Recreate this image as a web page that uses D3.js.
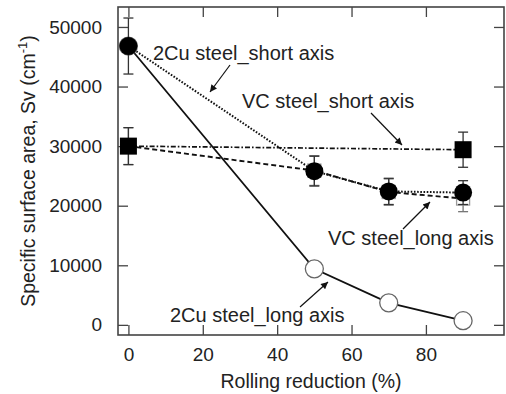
<!DOCTYPE html>
<html><head><meta charset="utf-8">
<script src="https://cdn.jsdelivr.net/npm/d3@7"></script>
<style>body{margin:0;background:#fff}svg{display:block}text{font-family:"Liberation Sans",Arial,sans-serif;fill:#222}</style>
</head><body>
<svg id="c" width="506" height="394"></svg>
<script>
const reduction = [0, 50, 70, 90];
const cuShort = [46800, 25800, 22400, 22200];
const cuShortErr = [4700, 2500, 2200, 2000];
const cuLong = [46800, 9400, 3700, 700];
const vcShortX = [0, 90];
const vcShort = [30000, 29400];
const vcShortErr = [3100, 2950];
const vcLong = [30000, 25900, 22300, 21200];
const vcLongErr = [3100, 2500, 2200, 2200];
const xTicks = [0, 20, 40, 60, 80];
const yTicks = [0, 10000, 20000, 30000, 40000, 50000];

const svg = d3.select("#c");
const L = 118, R = 504, T = 7, B = 335;
const x = d3.scaleLinear().domain([-2.8, 101]).range([L, R]);
const y = d3.scaleLinear().domain([-1700, 53350]).range([B, T]);
const ink = "#444";

// axes (inward ticks on all sides)
const tk = 10;
const ax = (g, a) => g.call(a).call(s => s.select(".domain").remove()).call(s => s.selectAll("line").attr("stroke", ink).attr("stroke-width", 1.3));
svg.append("g").attr("transform", `translate(0,${B})`).call(g => ax(g, d3.axisBottom(x).tickValues(xTicks).tickSizeInner(-tk).tickSizeOuter(0).tickPadding(22)))
  .selectAll("text").attr("font-size", 19).attr("dy", "0.2em").attr("fill", "#222");
svg.append("g").attr("transform", `translate(0,${T})`).call(g => ax(g, d3.axisTop(x).tickValues(xTicks).tickSizeInner(-tk).tickSizeOuter(0).tickFormat("")));
svg.append("g").attr("transform", `translate(${L},0)`).call(g => ax(g, d3.axisLeft(y).tickValues(yTicks).tickSizeInner(-tk).tickSizeOuter(0).tickPadding(16).tickFormat(d3.format("d"))))
  .selectAll("text").attr("font-size", 19).attr("fill", "#222");
svg.append("g").attr("transform", `translate(${R},0)`).call(g => ax(g, d3.axisRight(y).tickValues(yTicks).tickSizeInner(-tk).tickSizeOuter(0).tickFormat("")));
svg.selectAll(".tick text").attr("font-family", '"Liberation Sans",Arial,sans-serif');
svg.append("rect").attr("x", L).attr("y", T).attr("width", R - L).attr("height", B - T)
  .attr("fill", "none").attr("stroke", ink).attr("stroke-width", 1.6);

// axis labels
svg.append("text").attr("x", (L + R) / 2).attr("y", 388).attr("text-anchor", "middle").attr("font-size", 19.5).text("Rolling reduction (%)");
const yl = svg.append("text").attr("transform", `translate(35,${(T + B) / 2}) rotate(-90)`).attr("text-anchor", "middle").attr("font-size", 19.5);
yl.append("tspan").text("Specific surface area, Sv (cm");
yl.append("tspan").attr("font-size", 13).attr("dy", -8).text("-1");
yl.append("tspan").attr("dy", 8).text(")");

// lines
const line = d3.line().x(d => x(d[0])).y(d => y(d[1]));
const zip = (xs, ys) => xs.map((v, i) => [v, ys[i]]);
svg.append("path").attr("d", line(zip(reduction, cuLong))).attr("fill", "none").attr("stroke", "#111").attr("stroke-width", 1.8);
svg.append("path").attr("d", line(zip(reduction, vcLong))).attr("fill", "none").attr("stroke", "#111").attr("stroke-width", 1.9).attr("stroke-dasharray", "5,3");
svg.append("path").attr("d", line(zip(vcShortX, vcShort))).attr("fill", "none").attr("stroke", "#111").attr("stroke-width", 1.7).attr("stroke-dasharray", "5,2,1.6,2");
svg.append("path").attr("d", line(zip(reduction, cuShort))).attr("fill", "none").attr("stroke", "#111").attr("stroke-width", 2).attr("stroke-dasharray", "1.6,1.6");

// error bars
function errBars(xs, ys, es, color) {
  const g = svg.append("g").attr("stroke", color).attr("stroke-width", 1.3);
  xs.forEach((v, i) => {
    const cx = x(v), t = y(ys[i] + es[i]), b = y(ys[i] - es[i]);
    g.append("line").attr("x1", cx).attr("x2", cx).attr("y1", t).attr("y2", b);
    g.append("line").attr("x1", cx - 5).attr("x2", cx + 5).attr("y1", t).attr("y2", t);
    g.append("line").attr("x1", cx - 5).attr("x2", cx + 5).attr("y1", b).attr("y2", b);
  });
}
const sq = 17, osq = 13;
// open squares (VC long)
errBars(reduction, vcLong, vcLongErr, "#777");
svg.append("g").selectAll("rect").data(zip(reduction, vcLong)).join("rect")
  .attr("x", d => x(d[0]) - osq / 2).attr("y", d => y(d[1]) - osq / 2).attr("width", osq).attr("height", osq)
  .attr("fill", "#fff").attr("stroke", "#999").attr("stroke-width", 1.3);
// open circles (2Cu long)
svg.append("g").selectAll("circle").data(zip(reduction, cuLong)).join("circle")
  .attr("cx", d => x(d[0])).attr("cy", d => y(d[1])).attr("r", 9)
  .attr("fill", "#fff").attr("stroke", "#666").attr("stroke-width", 1.3);
// filled squares (VC short)
errBars(vcShortX, vcShort, vcShortErr, "#333");
svg.append("g").selectAll("rect").data(zip(vcShortX, vcShort)).join("rect")
  .attr("x", d => x(d[0]) - sq / 2).attr("y", d => y(d[1]) - sq / 2).attr("width", sq).attr("height", sq)
  .attr("fill", "#000");
// filled circles (2Cu short)
errBars(reduction, cuShort, cuShortErr, "#333");
svg.append("g").selectAll("circle").data(zip(reduction, cuShort)).join("circle")
  .attr("cx", d => x(d[0])).attr("cy", d => y(d[1])).attr("r", 9).attr("fill", "#000");

// annotations
svg.append("defs").append("marker").attr("id", "ah").attr("viewBox", "0 0 10 10").attr("refX", 10).attr("refY", 5)
  .attr("markerWidth", 9).attr("markerHeight", 7).attr("markerUnits", "userSpaceOnUse").attr("orient", "auto")
  .append("path").attr("d", "M0,0L10,5L0,10z").attr("fill", "#111");
const notes = [
  {t: "2Cu steel_short axis", tx: 153, ty: 60, a: [230, 65, 210, 92]},
  {t: "VC steel_short axis", tx: 242, ty: 108, a: [371, 113, 402, 145]},
  {t: "VC steel_long axis", tx: 328, ty: 245, a: [403, 229, 430, 202]},
  {t: "2Cu steel_long axis", tx: 170, ty: 322, a: [300, 307, 328, 282]}
];
notes.forEach(n => {
  svg.append("text").attr("x", n.tx).attr("y", n.ty).attr("font-size", 20).text(n.t);
  svg.append("line").attr("x1", n.a[0]).attr("y1", n.a[1]).attr("x2", n.a[2]).attr("y2", n.a[3])
    .attr("stroke", "#111").attr("stroke-width", 1.2).attr("marker-end", "url(#ah)");
});
</script>
</body></html>
